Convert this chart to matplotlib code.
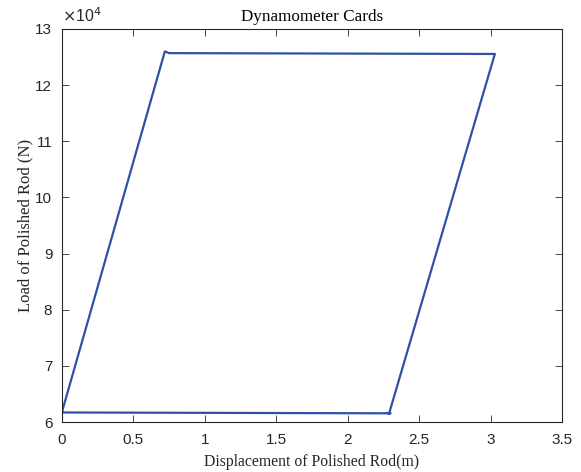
import matplotlib
matplotlib.use('Agg')
import matplotlib.pyplot as plt
from matplotlib.ticker import FuncFormatter

# dynamometer card outline (displacement m, load N)
disp = [0.0, 0.72, 0.75, 3.03, 2.29, 2.28, 2.30, 0.0]
load = [61800, 126000, 125700, 125550, 61550, 61600, 61550, 61700]

xticks = [0, 0.5, 1, 1.5, 2, 2.5, 3, 3.5]
yticks = [60000, 70000, 80000, 90000, 100000, 110000, 120000, 130000]

plt.rcParams['font.family'] = ['Liberation Sans', 'DejaVu Sans']
grey = '#262626'

fig = plt.figure(figsize=(5.81, 4.72), dpi=100)
ax = fig.add_axes([0.1067, 0.1059, 0.8606, 0.8327])
ax.plot(disp, load, color='#3050a8', linewidth=1.6)

ax.set_xlim(0, 3.5)
ax.set_ylim(60000, 130000)
ax.set_xticks(xticks)
ax.set_yticks(yticks)
ax.xaxis.set_major_formatter(FuncFormatter(lambda v, p: f'{v:g}'))
ax.yaxis.set_major_formatter(FuncFormatter(lambda v, p: f'{v / 1e4:g}'))
ax.tick_params(direction='in', length=5, width=0.6, colors=grey, labelsize=11,
               top=True, right=True)
ax.tick_params(axis='x', pad=8)
ax.tick_params(axis='y', pad=7)
for s in ax.spines.values():
    s.set_color(grey)
    s.set_linewidth(0.8)

ax.text(0.0, 1.01, r'$\times$10$^4$', transform=ax.transAxes, fontsize=11.5,
        color=grey, ha='left', va='bottom')

serif = ['Liberation Serif', 'DejaVu Serif']
ax.set_title('Dynamometer Cards', family=serif, fontsize=12.3, color='black', pad=6)
ax.set_xlabel('Displacement of Polished Rod(m)', family=serif, fontsize=11.3, color=grey, labelpad=5)
ax.set_ylabel('Load of Polished Rod (N)', family=serif, fontsize=12, color=grey, labelpad=1.5)

fig.savefig('out.png', dpi=100)
